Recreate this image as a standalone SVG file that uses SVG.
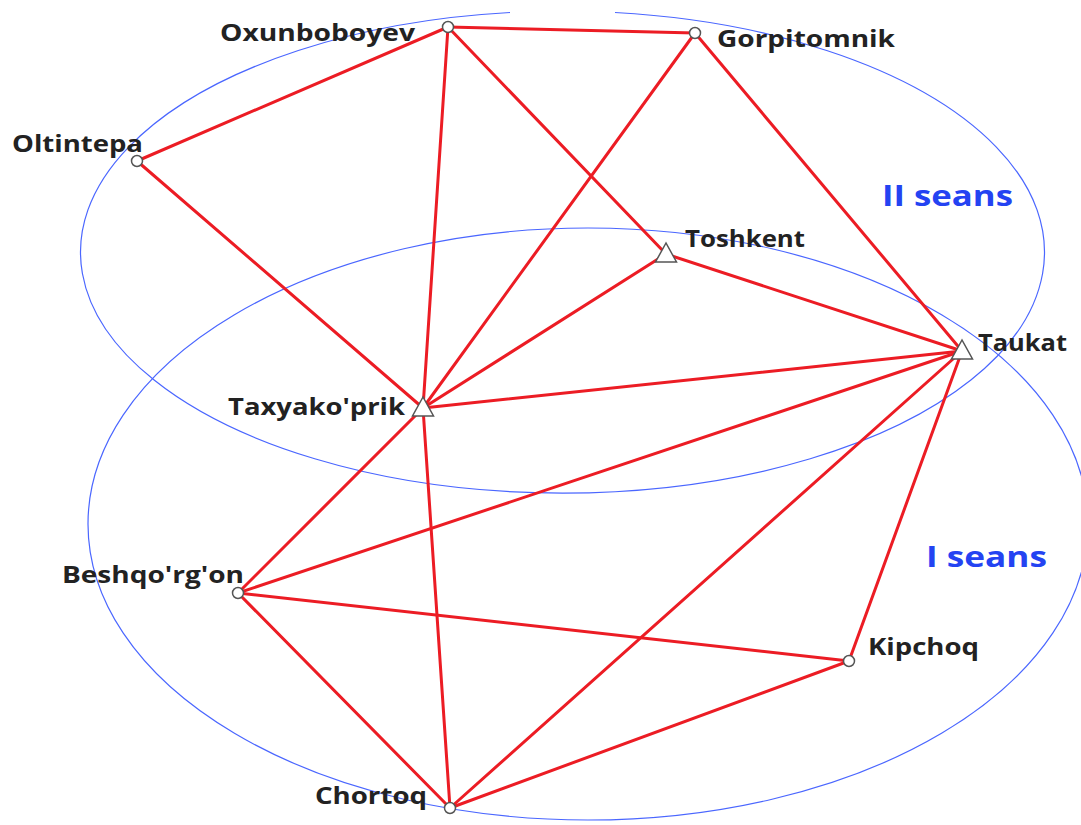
<svg xmlns="http://www.w3.org/2000/svg" width="1081" height="825" viewBox="0 0 1081 825">
<style>
.ell{fill:none;stroke:#4a66ff;stroke-width:1.2}
.edge{stroke:#ec1c24;stroke-width:3;fill:none;stroke-linecap:round}
.lbl{font-family:"Open Sans","DejaVu Sans",sans-serif;font-weight:700;font-size:23.5px;fill:#222}
.seans{font-family:"Open Sans","DejaVu Sans",sans-serif;font-weight:700;font-size:28px;fill:#2443f2}
.pt{fill:#fff;stroke:#555;stroke-width:1.5}
</style>
<rect width="1081" height="825" fill="#fff"/>
<g id="seans-areas">
<path class="ell" d="M 510 12.5 A 482 241 0 1 0 615 12.5"/>
<ellipse class="ell" cx="588" cy="524" rx="500" ry="296"/>
<text class="seans" x="882" y="206" textLength="131" lengthAdjust="spacingAndGlyphs">II seans</text>
<text class="seans" x="926" y="567" textLength="121" lengthAdjust="spacingAndGlyphs">I seans</text>
</g>
<g id="connectors">
<line class="edge" x1="448" y1="27" x2="695" y2="33"/>
<line class="edge" x1="448" y1="27" x2="137" y2="161"/>
<line class="edge" x1="448" y1="27" x2="423" y2="408"/>
<line class="edge" x1="448" y1="27" x2="666" y2="254"/>
<line class="edge" x1="695" y1="33" x2="423" y2="408"/>
<line class="edge" x1="695" y1="33" x2="962" y2="351"/>
<line class="edge" x1="137" y1="161" x2="423" y2="408"/>
<line class="edge" x1="666" y1="254" x2="423" y2="408"/>
<line class="edge" x1="666" y1="254" x2="962" y2="351"/>
<line class="edge" x1="423" y1="408" x2="962" y2="351"/>
<line class="edge" x1="423" y1="408" x2="238" y2="593"/>
<line class="edge" x1="423" y1="408" x2="450" y2="808"/>
<line class="edge" x1="962" y1="351" x2="238" y2="593"/>
<line class="edge" x1="962" y1="351" x2="450" y2="808"/>
<line class="edge" x1="962" y1="351" x2="849" y2="661"/>
<line class="edge" x1="238" y1="593" x2="849" y2="661"/>
<line class="edge" x1="238" y1="593" x2="450" y2="808"/>
<line class="edge" x1="849" y1="661" x2="450" y2="808"/>
</g>
<g id="Oxunboboyev"><circle class="pt" cx="448" cy="27" r="5.5"/><text class="lbl" x="220" y="41" textLength="195" lengthAdjust="spacingAndGlyphs">Oxunboboyev</text></g>
<g id="Gorpitomnik"><circle class="pt" cx="695" cy="33" r="5.5"/><text class="lbl" x="717" y="47" textLength="178" lengthAdjust="spacingAndGlyphs">Gorpitomnik</text></g>
<g id="Oltintepa"><circle class="pt" cx="137" cy="161" r="5.5"/><text class="lbl" x="12" y="152" textLength="131" lengthAdjust="spacingAndGlyphs">Oltintepa</text></g>
<g id="Toshkent"><polygon class="pt" points="666,243 655.5,262 676.5,262"/><text class="lbl" x="685" y="247" textLength="120" lengthAdjust="spacingAndGlyphs">Toshkent</text></g>
<g id="Taukat"><polygon class="pt" points="962,340 951.5,359 972.5,359"/><text class="lbl" x="978" y="351" textLength="89" lengthAdjust="spacingAndGlyphs">Taukat</text></g>
<g id="Taxyakoprik"><polygon class="pt" points="423,397 412.5,416 433.5,416"/><text class="lbl" x="228" y="415" textLength="177" lengthAdjust="spacingAndGlyphs">Taxyako'prik</text></g>
<g id="Beshqorgon"><circle class="pt" cx="238" cy="593" r="5.5"/><text class="lbl" x="62" y="583" textLength="182" lengthAdjust="spacingAndGlyphs">Beshqo'rg'on</text></g>
<g id="Kipchoq"><circle class="pt" cx="849" cy="661" r="5.5"/><text class="lbl" x="868" y="655" textLength="111" lengthAdjust="spacingAndGlyphs">Kipchoq</text></g>
<g id="Chortoq"><circle class="pt" cx="450" cy="808" r="5.5"/><text class="lbl" x="315" y="804" textLength="112" lengthAdjust="spacingAndGlyphs">Chortoq</text></g>
</svg>
